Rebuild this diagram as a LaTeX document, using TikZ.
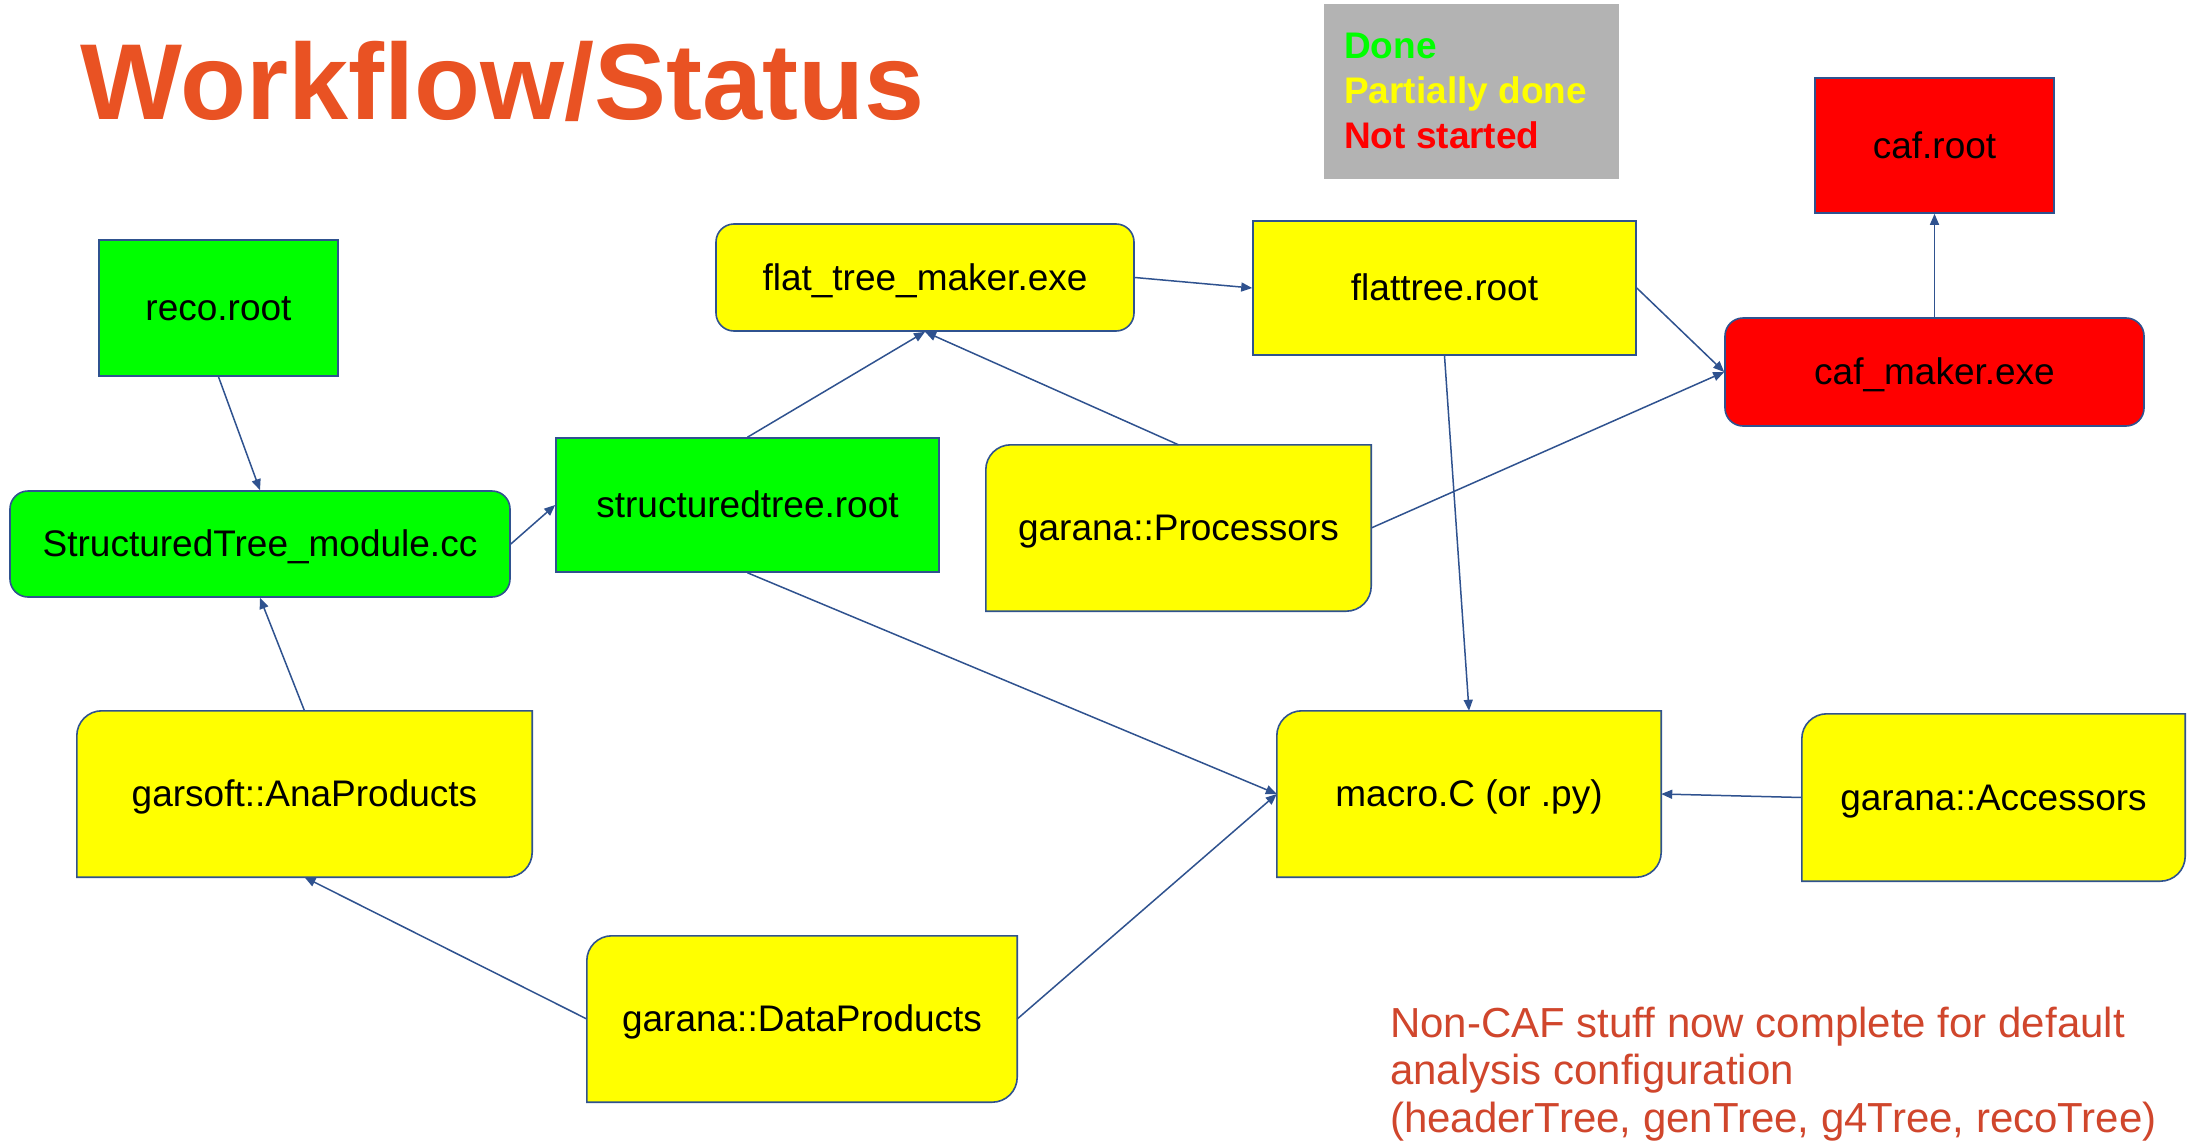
\documentclass[tikz,border=0pt]{standalone}
\usepackage{fontspec}
\setmainfont{Liberation Sans}
\usetikzlibrary{arrows.meta,backgrounds}
\definecolor{edgeblue}{RGB}{47,82,143}
\definecolor{titleorange}{RGB}{233,82,35}
\definecolor{noteRed}{RGB}{208,70,44}
\definecolor{legendgray}{RGB}{179,179,179}
\definecolor{doneGreen}{RGB}{0,255,0}
\definecolor{partYellow}{RGB}{255,255,0}
\definecolor{notRed}{RGB}{255,0,0}
\tikzset{
  box/.style={draw=edgeblue, line width=1.6pt, inner sep=0pt, align=center,
    text height=33.5pt, text depth=7.8pt, font=\fontsize{37}{44}\selectfont},
  donebox/.style={box, fill=doneGreen},
  partbox/.style={box, fill=partYellow},
  notbox/.style={box, fill=notRed},
  roundbox/.style={rounded corners=18pt},
  diagbox/.style={inner sep=0pt, align=center, text height=33.5pt, text depth=7.8pt,
    font=\fontsize{37}{44}\selectfont},
  diagshape/.style={draw=edgeblue, line width=1.6pt, fill=partYellow},
  conn/.style={draw=edgeblue, line width=1.5pt, -{Triangle[length=11pt,width=9pt]}},
  legendtxt/.style={anchor=base west, inner sep=0pt, font=\fontsize{37}{44}\selectfont\bfseries}
}
\begin{document}
\begin{tikzpicture}[x=1pt,y=1pt]
\useasboundingbox (0,0) rectangle (2192,-1148);

% title
\node[anchor=base west, inner sep=0pt, text=titleorange,
  font=\fontsize{108}{120}\selectfont\bfseries] (title) at (80,-119) {Workflow/Status};

% legend
\path[fill=legendgray] (1324,-4) rectangle (1619,-179);
\node[legendtxt, text=doneGreen] (lgdone) at (1344,-59) {Done};
\node[legendtxt, text=partYellow] (lgpart) at (1344,-103) {Partially done};
\node[legendtxt, text=notRed] (lgnot) at (1344,-148) {Not started};

% nodes
\node[donebox, minimum width=239pt, minimum height=136pt] (reco) at (218.5,-308) {reco.root};
\node[donebox, roundbox, minimum width=500pt, minimum height=106pt] (stmod) at (260,-544) {StructuredTree\_module.cc};
\node[donebox, minimum width=383pt, minimum height=134pt] (sroot) at (747.5,-505) {structuredtree.root};
\node[partbox, roundbox, minimum width=418pt, minimum height=107pt] (ftm) at (925,-277.5) {flat\_tree\_maker.exe};
\node[partbox, minimum width=383pt, minimum height=134pt] (froot) at (1444.5,-288) {flattree.root};
\node[notbox, minimum width=239pt, minimum height=135pt] (cafroot) at (1934.5,-145.5) {caf.root};
\node[notbox, roundbox, minimum width=419pt, minimum height=108pt] (cafmk) at (1934.5,-372) {caf\_maker.exe};

\node[diagbox, minimum width=385pt, minimum height=166pt] (proc) at (1178.5,-528) {garana::Processors};
\node[diagbox, minimum width=455pt, minimum height=166pt] (ana) at (304.5,-794) {garsoft::AnaProducts};
\node[diagbox, minimum width=430pt, minimum height=166pt] (data) at (802,-1019) {garana::DataProducts};
\node[diagbox, minimum width=384pt, minimum height=166pt] (macro) at (1469,-794) {macro.C (or .py)};
\node[diagbox, minimum width=383pt, minimum height=167pt] (acc) at (1993.5,-797.5) {garana::Accessors};

\begin{pgfonlayer}{background}
\fill[white] (0,0) rectangle (2192,-1148);
\foreach \n in {proc,ana,data,macro,acc}{
  \draw[diagshape] (\n.south west) -- ([yshift=-25pt]\n.north west)
    arc[start angle=180,end angle=90,radius=25pt] -- (\n.north east)
    -- ([yshift=25pt]\n.south east)
    arc[start angle=0,end angle=-90,radius=25pt] -- cycle;
}
\end{pgfonlayer}

% connectors
\draw[conn] (reco.south) -- (stmod.north);
\draw[conn] (stmod.east) -- (sroot.west);
\draw[conn] (sroot.north) -- (ftm.south);
\draw[conn] (proc.north) -- (ftm.south);
\draw[conn] (ftm.east) -- (froot.west);
\draw[conn] (froot.east) -- (cafmk.west);
\draw[conn] (proc.east) -- (cafmk.west);
\draw[conn] (cafmk.north) -- (cafroot.south);
\draw[conn] (froot.south) -- (macro.north);
\draw[conn] (sroot.south) -- (macro.west);
\draw[conn] (data.east) -- (macro.west);
\draw[conn] (acc.west) -- (macro.east);
\draw[conn] (data.west) -- (ana.south);
\draw[conn] (ana.north) -- (stmod.south);

% note
\node[anchor=base west, inner sep=0pt, text=noteRed, align=left,
  font=\fontsize{42}{47.5}\selectfont] (note) at (1390,-1132)
  {Non-CAF stuff now complete for default\\analysis configuration\\(headerTree, genTree, g4Tree, recoTree)};
\end{tikzpicture}
\end{document}
